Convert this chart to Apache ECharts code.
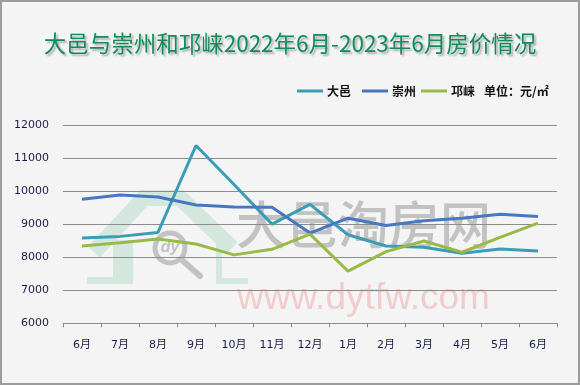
<!DOCTYPE html>
<html>
<head>
<meta charset="utf-8">
<script src="https://cdn.jsdelivr.net/npm/echarts@6/dist/echarts.min.js"></script>
<style>
html,body{margin:0;padding:0;background:#f4f4f4;}
#c{width:580px;height:385px;}
</style>
</head>
<body>
<div id="c"></div>
<script>
const months = ['6月','7月','8月','9月','10月','11月','12月','1月','2月','3月','4月','5月','6月'];
const dayi = [8580,8630,8750,11380,10200,9000,9600,8680,8340,8300,8120,8250,8190];
const chongzhou = [9750,9880,9820,9580,9520,9510,8730,9180,8960,9100,9180,9300,9230];
const qionglai = [8340,8440,8550,8400,8070,8240,8700,7580,8170,8490,8150,8600,9030];
const seriesNames = ['大邑','崇州','邛崃'];
const yTicks = {min:6000, max:12000, interval:1000};

const chart = echarts.init(document.getElementById('c'));
const labelFont = {fontFamily:'DejaVu Sans, Noto Sans CJK SC', fontSize:11, color:'#1c1c4c'};
const wmGray = '#c2c2c2';
const legendLefts = [297, 362, 421];
const legends = seriesNames.map((n, i) => ({
  left:legendLefts[i], top:85, padding:0, icon:'rect', itemWidth:26, itemHeight:3,
  textStyle:{fontFamily:'Noto Sans CJK SC', fontSize:12, fontWeight:'bold', color:'#111', padding:[0,0,0,-1]},
  data:[n]
}));
chart.setOption({
  backgroundColor:'#f4f4f4',
  animation:false,
  title:{
    text:'大邑与崇州和邛崃2022年6月-2023年6月房价情况',
    left:'center', top:27,
    textStyle:{fontFamily:'Noto Sans CJK SC', fontSize:22.5, fontWeight:'normal', color:'#0f8c5c',
      textShadowColor:'rgba(0,0,0,0.3)', textShadowBlur:2, textShadowOffsetX:2, textShadowOffsetY:2}
  },
  legend:legends,
  grid:{left:63, right:23, top:125, bottom:61.7},
  xAxis:{
    type:'category', data:months, boundaryGap:true,
    axisLine:{lineStyle:{color:'#8c8c8c', width:1}},
    axisTick:{show:true, length:4, lineStyle:{color:'#8c8c8c'}},
    axisLabel:Object.assign({margin:16}, labelFont)
  },
  yAxis:{
    type:'value', min:yTicks.min, max:yTicks.max, interval:yTicks.interval,
    axisLine:{show:false}, axisTick:{show:false},
    splitLine:{lineStyle:{color:'#8c8c8c', width:1}},
    axisLabel:Object.assign({margin:14, formatter:function(v){return String(v);}}, labelFont)
  },
  graphic:[
    {type:'rect', z:-10, shape:{x:1,y:1,width:578,height:383}, style:{fill:'none', stroke:'#9c9c9c', lineWidth:2}},
    // watermark house
    {type:'polyline', z:-5, shape:{points:[[94,252],[144,198],[180,198],[232,248]]}, style:{stroke:'#d3e7df', lineWidth:16, fill:'none', lineJoin:'miter'}},
    {type:'rect', z:-5, shape:{x:113,y:240,width:20,height:44}, style:{fill:'#d3e7df'}},
    {type:'rect', z:-5, shape:{x:87,y:277,width:46,height:7}, style:{fill:'#d3e7df'}},
    {type:'rect', z:-5, shape:{x:216,y:244,width:6,height:40}, style:{fill:'#d3e7df'}},
    {type:'rect', z:-5, shape:{x:216,y:278,width:32,height:6}, style:{fill:'#d3e7df'}},
    // magnifier
    {type:'circle', z:-4, shape:{cx:170,cy:248,r:15}, style:{fill:'none', stroke:wmGray, lineWidth:5}},
    {type:'line', z:-4, shape:{x1:182,y1:260,x2:200,y2:276}, style:{stroke:wmGray, lineWidth:6, lineCap:'round'}},
    {type:'text', z:-4, x:170, y:248, style:{text:'dy', fill:wmGray, fontSize:16, fontStyle:'italic', fontWeight:'bold', fontFamily:'Liberation Sans', align:'center', verticalAlign:'middle'}},
    // watermark texts
    {type:'text', z:-4, x:236, y:225, style:{text:'大邑淘房网', fill:wmGray, fontSize:51, fontWeight:500, fontFamily:'Noto Sans CJK SC', verticalAlign:'middle'}},
    {type:'text', z:-4, x:237, y:280, style:{text:'www.dytfw.com', fill:'#f2cccc', fontSize:37, fontFamily:'Liberation Sans', verticalAlign:'alphabetic'}},
    // unit
    {type:'text', x:484, y:91, style:{text:'单位：元/㎡', fill:'#111', fontSize:12, fontWeight:'bold', fontFamily:'Noto Sans CJK SC', verticalAlign:'middle'}}
  ],
  series:[
    {name:seriesNames[0], type:'line', data:dayi, symbol:'none', color:'#3a9db6', lineStyle:{width:3, color:'#3a9db6'}},
    {name:seriesNames[1], type:'line', data:chongzhou, symbol:'none', color:'#4677c0', lineStyle:{width:3, color:'#4677c0'}},
    {name:seriesNames[2], type:'line', data:qionglai, symbol:'none', color:'#98bb47', lineStyle:{width:3, color:'#98bb47'}}
  ]
});
</script>
</body>
</html>
